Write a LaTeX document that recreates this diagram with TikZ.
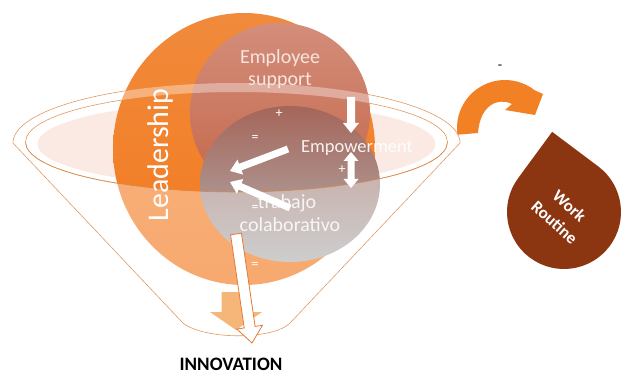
\documentclass[tikz,border=0pt]{standalone}
\usepackage{fontspec}
\setmainfont{Carlito}
\usetikzlibrary{calc}

\definecolor{leadtop}{HTML}{F08A3C}
\definecolor{leadbot}{HTML}{F47A1E}
\definecolor{emptop}{HTML}{D38E7B}
\definecolor{empbot}{HTML}{C46447}
\definecolor{graytop}{HTML}{A5665A}
\definecolor{graymid}{HTML}{A09EA0}
\definecolor{graybot}{HTML}{B2B2B2}
\definecolor{palefill}{HTML}{FBEAE3}
\definecolor{funnelc}{HTML}{D9823F}
\definecolor{dropc}{HTML}{8C3511}
\definecolor{curvc}{HTML}{F28125}
\definecolor{lightor}{HTML}{F6B679}
\definecolor{arrowedge}{HTML}{E27A36}
\definecolor{softwhite}{HTML}{F5E6E0}

% block arrow: [style] start, tip, half shaft width, half head width, head length
\newcommand\blockarrow[6][]{%
  \coordinate (#2-h) at ($(#3)!#6!(#2)$);
  \path[#1] ($(#2)!#4!90:(#3)$) -- ($(#2-h)!#4!90:(#3)$) -- ($(#2-h)!#5!90:(#3)$)
    -- (#3) -- ($(#2-h)!#5!-90:(#3)$) -- ($(#2-h)!#4!-90:(#3)$)
    -- ($(#2)!#4!-90:(#3)$) -- cycle;
}
% double-headed block arrow between two tips
\newcommand\dblarrow[6][]{%
  \coordinate (#2-h) at ($(#2)!#6!(#3)$);
  \coordinate (#3-h) at ($(#3)!#6!(#2)$);
  \path[#1] (#2) -- ($(#2-h)!#5!90:(#3)$) -- ($(#2-h)!#4!90:(#3)$)
    -- ($(#3-h)!#4!90:(#3)$) -- ($(#3-h)!#5!90:(#3)$) -- (#3)
    -- ($(#3-h)!#5!-90:(#3)$) -- ($(#3-h)!#4!-90:(#3)$)
    -- ($(#2-h)!#4!-90:(#3)$) -- ($(#2-h)!#5!-90:(#3)$) -- cycle;
}

\tikzset{
  funnelline/.style={draw=funnelc, line width=0.6pt},
  label/.style={inner sep=0pt, text=softwhite, align=center},
  sign/.style={inner sep=0pt, text=white, font=\fontsize{14}{14}\selectfont},
  whitearrow/.style={fill=white},
}

\begin{document}
\begin{tikzpicture}[x=1pt,y=-1pt]
\useasboundingbox[fill=white] (0,0) rectangle (624,374);

% pale inside of the funnel mouth
\fill[palefill] (236.5,144) ellipse[x radius=199, y radius=42];

% funnel outline and rim
\draw[funnelline] (13,143) arc[start angle=180, end angle=360, x radius=223.5, y radius=60]
  -- (290,323) .. controls (273,340) and (205,340) .. (183,323) -- cycle;
\draw[funnelline] (236.5,142) ellipse[x radius=211, y radius=50];

% the three overlapping circles
\shade[top color=leadtop, bottom color=leadbot] (244,149) ellipse[x radius=131, y radius=136];
\shade[top color=emptop, bottom color=empbot] (280,113) circle[radius=90];
\shade[top color=graytop, middle color=graymid, bottom color=graybot] (290,184) ellipse[x radius=90, y radius=78];

% translucent funnel body and rim band
\fill[white, opacity=0.36, even odd rule]
  (13,143) arc[start angle=180, end angle=360, x radius=223.5, y radius=60]
  -- (290,323) .. controls (273,340) and (205,340) .. (183,323) -- cycle
  (236.5,142) ellipse[x radius=211, y radius=50];
\draw[funnelline, opacity=0.8] (25.5,142) arc[start angle=180, end angle=0, x radius=211, y radius=50];

% arrows down to the funnel spout
\coordinate (o1) at (236,292);
\coordinate (o2) at (236,330);
\blockarrow[fill=lightor]{o1}{o2}{14.5pt}{26pt}{18pt}
\coordinate (w1) at (236,234);
\coordinate (w2) at (252,343);
\blockarrow[fill=white, draw=arrowedge, line width=0.8pt]{w1}{w2}{5.5pt}{13pt}{16pt}

% labels inside the circles
\node[label, font=\fontsize{20}{22}\selectfont] (support) at (280,69) {Employee\\support};
\node[label, text=white, opacity=0.9, font=\fontsize{18.5}{20}\selectfont] (empower) at (357,148) {Empowerment};
\node[label, text=white, opacity=0.85, font=\fontsize{20}{22}\selectfont] (trabajo) at (287,203) {trabajo};
\node[label, text=white, opacity=0.85, font=\fontsize{20}{22}\selectfont] (colab) at (290,225) {colaborativo};
\node[label, text=white, rotate=90, font=\fontsize{30}{32}\selectfont] (leader) at (160,155) {Leadership};

\node[sign] (p1) at (279,114) {+};
\node[sign] (e1) at (255,138) {=};
\node[sign] (p2) at (342,170) {+};
\node[sign] (e2) at (255,208) {=};
\node[sign] (e3) at (255,265) {=};

% white arrows between the concepts
\coordinate (a1s) at (351,97);
\coordinate (a1t) at (351,133);
\blockarrow[whitearrow]{a1s}{a1t}{4pt}{8pt}{10pt}
\coordinate (a2s) at (351,152);
\coordinate (a2t) at (351,188);
\dblarrow[whitearrow]{a2s}{a2t}{3.5pt}{7.5pt}{9pt}
\coordinate (a3s) at (288,149);
\coordinate (a3t) at (230,171);
\blockarrow[whitearrow]{a3s}{a3t}{3.5pt}{8pt}{11pt}
\coordinate (a4s) at (290,208);
\coordinate (a4t) at (230,182);
\blockarrow[whitearrow]{a4s}{a4t}{3.5pt}{8pt}{11pt}

\node[inner sep=0pt, font=\bfseries\fontsize{19}{20}\selectfont] (innov) at (231,364) {INNOVATION};

% curved arrow and the drop
\fill[curvc] (505,128) ++(172:48) arc[start angle=172, end angle=308, radius=48]
  -- (543,94) -- (535,115) -- (505,110) -- (512,104)
  .. controls (498,97) and (480,105) .. (478,133) -- cycle;
\node[inner sep=0pt, font=\fontsize{14}{14}\selectfont] (minus) at (500,67) {-};

\coordinate (dc) at (564,212);
\fill[dropc] ($(dc)+(261.6:81)$) -- ($(dc)+(306.6:57)$)
  arc[start angle=306.6, end angle=576.6, radius=57] -- cycle;
\node[inner sep=0pt, text=white, align=center, rotate=-42,
  font=\bfseries\fontsize{17}{22}\selectfont] (routine) at (562,214) {Work\\Routine};
\end{tikzpicture}
\end{document}
